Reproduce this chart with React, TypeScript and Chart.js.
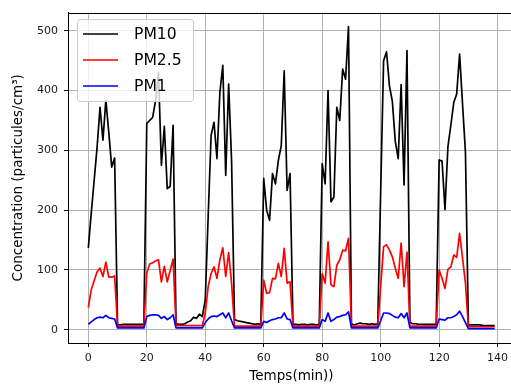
import React, { useEffect, useRef } from "react";
import { Chart, registerables } from "chart.js";

Chart.register(...registerables);

const PM10 = [
  137, 195, 250, 305, 372, 317, 384, 330, 272, 287,
  8, 8, 9, 9, 9, 9, 9, 9, 9, 9,
  345, 350, 355, 383, 430, 275, 340, 236, 240, 342,
  10, 9, 9, 10, 13, 15, 21, 19, 26, 22,
  50, 190, 325, 347, 286, 397, 442, 258, 411, 283,
  17, 15, 14, 13, 12, 11, 10, 9, 10, 9,
  253, 200, 183, 261, 244, 283, 308, 433, 233, 261,
  9, 9, 8, 9, 9, 8, 9, 9, 8, 9,
  278, 244, 400, 214, 222, 372, 350, 436, 419, 507,
  10, 8, 10, 11, 10, 10, 9, 10, 9, 10,
  230, 450, 465, 408, 382, 315, 286, 410, 242, 467,
  12, 10, 10, 9, 9, 9, 9, 9, 9, 9,
  284, 282, 201, 306, 342, 380, 394, 461, 378, 297,
  8, 8, 8, 8, 8, 7, 7, 7, 7, 7,
];

const PM25 = [
  37, 67, 82, 97, 103, 89, 113, 88, 88, 90,
  6, 6, 6, 6, 6, 6, 6, 6, 6, 6,
  95, 110, 112, 115, 117, 80, 106, 80, 99, 118,
  7, 7, 7, 7, 7, 7, 7, 7, 7, 7,
  28, 72, 94, 105, 86, 117, 137, 89, 129, 78,
  6, 6, 6, 6, 6, 6, 6, 6, 6, 6,
  83, 61, 62, 86, 85, 111, 89, 136, 78, 80,
  6, 6, 6, 6, 6, 6, 6, 6, 6, 6,
  94, 78, 147, 75, 72, 108, 117, 133, 132, 153,
  6, 6, 6, 6, 6, 6, 6, 6, 6, 6,
  72, 139, 142, 133, 122, 103, 86, 145, 72, 130,
  6, 6, 6, 6, 6, 6, 6, 6, 6, 6,
  100, 86, 69, 101, 105, 125, 121, 161, 120, 78,
  5, 5, 5, 5, 5, 5, 5, 5, 5, 5,
];

const PM1 = [
  9, 13, 17, 20, 21, 20, 24, 20, 19, 18,
  3, 3, 3, 3, 3, 3, 3, 3, 3, 3,
  22, 24, 25, 25, 24, 19, 22, 17, 20, 25,
  3, 3, 3, 3, 3, 3, 3, 3, 3, 3,
  12, 18, 22, 23, 22, 25, 28, 20, 28, 15,
  3, 3, 3, 3, 3, 3, 3, 3, 3, 3,
  14, 12, 15, 17, 18, 20, 20, 28, 18, 17,
  3, 3, 3, 3, 3, 3, 3, 3, 3, 3,
  17, 14, 28, 14, 17, 21, 22, 24, 25, 30,
  3, 3, 3, 3, 3, 3, 3, 3, 3, 3,
  15, 28, 28, 27, 24, 21, 20, 27, 20, 28,
  3, 3, 3, 3, 3, 3, 3, 3, 3, 3,
  18, 17, 16, 20, 20, 22, 25, 31, 22, 12,
  2, 2, 2, 2, 2, 2, 2, 2, 2, 2,
];

const minutes = PM10.map((_, i) => i);

const SERIES_LABELS = ["PM10", "PM2.5", "PM1"];
const SERIES_COLORS = ["#000000", "#ff0000", "#0000ff"];
const X_TITLE = "Temps(min))";
const Y_TITLE = "Concentration (particules/cm³)";

const FONT = "'DejaVu Sans', sans-serif";

const framePlugin = {
  id: "frameAndLegend",
  afterDatasetsDraw(chart: any) {
    const { ctx, chartArea } = chart;
    ctx.save();
    ctx.strokeStyle = "#000";
    ctx.lineWidth = 1;
    ctx.beginPath();
    ctx.moveTo(chartArea.left, Math.round(chartArea.top) + 0.5);
    ctx.lineTo(chartArea.right + 5, Math.round(chartArea.top) + 0.5);
    ctx.stroke();
    ctx.restore();
  },
  afterDraw(chart: any) {
    const { ctx } = chart;
    ctx.save();
    const bx = 77.5, by = 19.5, bw = 116, bh = 82, r = 3;
    ctx.beginPath();
    ctx.moveTo(bx + r, by);
    ctx.lineTo(bx + bw - r, by);
    ctx.quadraticCurveTo(bx + bw, by, bx + bw, by + r);
    ctx.lineTo(bx + bw, by + bh - r);
    ctx.quadraticCurveTo(bx + bw, by + bh, bx + bw - r, by + bh);
    ctx.lineTo(bx + r, by + bh);
    ctx.quadraticCurveTo(bx, by + bh, bx, by + bh - r);
    ctx.lineTo(bx, by + r);
    ctx.quadraticCurveTo(bx, by, bx + r, by);
    ctx.closePath();
    ctx.fillStyle = "rgba(255,255,255,0.8)";
    ctx.fill();
    ctx.strokeStyle = "#cccccc";
    ctx.lineWidth = 1;
    ctx.stroke();
    chart.data.datasets.forEach((ds: any, i: number) => {
      const y = 34 + i * 26;
      ctx.strokeStyle = ds.borderColor;
      ctx.lineWidth = 1.7;
      ctx.beginPath();
      ctx.moveTo(83, y);
      ctx.lineTo(118, y);
      ctx.stroke();
      ctx.fillStyle = "#000";
      ctx.font = `15.6px ${FONT}`;
      ctx.textAlign = "left";
      ctx.textBaseline = "middle";
      ctx.fillText(ds.label, 134, y + 1);
    });
    ctx.restore();
  },
};

const CANVAS_W = 530;

export default function App() {
  const ref = useRef<HTMLCanvasElement | null>(null);

  useEffect(() => {
    if (!ref.current) return;
    const datasets = [PM10, PM25, PM1].map((vals, i) => ({
      label: SERIES_LABELS[i],
      data: vals,
      borderColor: SERIES_COLORS[i],
      backgroundColor: SERIES_COLORS[i],
      borderWidth: 1.7,
      pointRadius: 0,
      tension: 0,
      fill: false,
      borderJoinStyle: "round" as const,
      order: 3 - i,
    }));
    const chart = new Chart(ref.current, {
      type: "line",
      data: { labels: minutes, datasets },
      options: {
        animation: false,
        responsive: false,
        maintainAspectRatio: false,
        layout: { padding: { top: 11, right: 15, left: 0, bottom: 0 } },
        plugins: {
          legend: { display: false },
          tooltip: { enabled: false },
        },
        scales: {
          x: {
            type: "linear",
            min: -6.95,
            max: 145.95,
            afterFit(scale: any) {
              scale.height = 42;
            },
            ticks: {
              stepSize: 20,
              includeBounds: false,
              padding: 5,
              color: "#1a1a1a",
              font: { family: FONT, size: 11 },
              maxRotation: 0,
            },
            grid: {
              color: "#b0b0b0",
              lineWidth: 1,
              tickColor: "#000",
              tickLength: 4,
              tickWidth: 1,
            },
            border: { color: "#000", width: 1 },
            title: {
              display: true,
              text: X_TITLE,
              color: "#000",
              font: { family: FONT, size: 13.5 },
              padding: { top: 0, bottom: 0 },
            },
          },
          y: {
            type: "linear",
            min: -22.2,
            max: 530.4,
            afterFit(scale: any) {
              scale.width = 68;
            },
            ticks: {
              stepSize: 100,
              includeBounds: false,
              padding: 6,
              color: "#1a1a1a",
              font: { family: FONT, size: 11 },
            },
            grid: {
              color: "#b0b0b0",
              lineWidth: 1,
              tickColor: "#000",
              tickLength: 4,
              tickWidth: 1,
            },
            border: { color: "#000", width: 1 },
            title: {
              display: true,
              text: Y_TITLE,
              color: "#000",
              font: { family: FONT, size: 13.5 },
              padding: { top: 10, bottom: 0 },
            },
          },
        },
      },
      plugins: [framePlugin],
    });
    return () => chart.destroy();
  }, []);

  return (
    <div
      style={{
        position: "fixed",
        left: 0,
        top: 0,
        width: 511,
        height: 385,
        overflow: "hidden",
        background: "#fff",
      }}
    >
      <canvas
        ref={ref}
        width={CANVAS_W}
        height={385}
        style={{ width: CANVAS_W, height: 385, display: "block" }}
      />
    </div>
  );
}
